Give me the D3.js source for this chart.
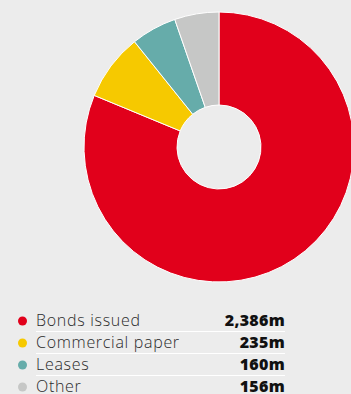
<!DOCTYPE html>
<html>
<head>
<meta charset="utf-8">
<script src="https://cdn.jsdelivr.net/npm/d3@7"></script>
<style>
  html, body { margin: 0; padding: 0; background: #ececec; }
  #chart { width: 351px; height: 394px; overflow: hidden; }
</style>
</head>
<body>
<div id="chart"></div>
<script>
const categories = ["Bonds issued", "Commercial paper", "Leases", "Other"];
const values = [2386, 235, 160, 156];
const labels = ["2,386m", "235m", "160m", "156m"];
const colors = ["#e1001b", "#f6c900", "#66acaa", "#c6c7c6"];

const width = 351, height = 394;
const cx = 219, cy = 147;
const outerR = 135, innerR = 42;

const svg = d3.select("#chart")
    .append("svg")
    .attr("width", width)
    .attr("height", height);

svg.append("rect")
    .attr("width", width)
    .attr("height", height)
    .attr("fill", "#ececec");

const pie = d3.pie().sort(null).value(d => d);
const arc = d3.arc().innerRadius(innerR).outerRadius(outerR);

svg.append("g")
    .attr("transform", `translate(${cx}, ${cy})`)
    .selectAll("path")
    .data(pie(values))
    .enter().append("path")
    .attr("d", arc)
    .attr("fill", (d, i) => colors[i])
    .attr("stroke", "#ffffff")
    .attr("stroke-width", 1);

// legend
const rowY = d3.scaleLinear().domain([0, 3]).range([320, 386]);
const legend = svg.append("g");

categories.forEach((name, i) => {
    const y = rowY(i);
    if (i > 0) {
        legend.append("line")
            .attr("x1", 36).attr("x2", 285)
            .attr("y1", y - 10.5).attr("y2", y - 10.5)
            .attr("stroke", "#ffffff")
            .attr("stroke-width", 1);
    }
    legend.append("circle")
        .attr("cx", 22.5)
        .attr("cy", y + 1)
        .attr("r", 4.5)
        .attr("fill", colors[i]);
    legend.append("text")
        .attr("x", 36)
        .attr("y", y)
        .attr("dy", "0.36em")
        .text(name)
        .style("font-family", "'Open Sans', sans-serif")
        .style("font-weight", "300")
        .style("font-size", "16px")
        .style("letter-spacing", "0.7px")
        .style("fill", "#2a2a2a");
    legend.append("text")
        .attr("x", 285)
        .attr("y", y)
        .attr("dy", "0.36em")
        .attr("text-anchor", "end")
        .text(labels[i])
        .style("font-family", "'Open Sans', sans-serif")
        .style("font-weight", "800")
        .style("font-size", "16px")
        .style("letter-spacing", "0.3px")
        .style("fill", "#111");
});
</script>
</body>
</html>
